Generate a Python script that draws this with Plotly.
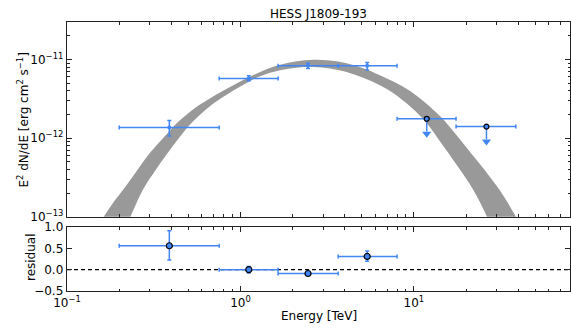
import plotly.graph_objects as go

# ---------------- data ----------------
title = "HESS J1809-193"

# flux points: energy bins (TeV)
e_min = [0.200, 0.754, 1.648, 3.66, 8.0, 17.5]
e_max = [0.754, 1.648, 3.66, 8.0, 17.5, 38.7]
e_ref = [0.389, 1.117, 2.452, 5.38, 11.86, 26.2]
# E^2 dN/dE [erg cm^-2 s^-1]
flux = [1.365e-12, 5.71e-12, 8.30e-12, 8.35e-12, 1.76e-12, 1.40e-12]
flux_errp = [0.31e-12, 0.48e-12, 0.65e-12, 0.79e-12, 0.0, 0.0]
flux_errn = [0.305e-12, 0.36e-12, 0.64e-12, 1.00e-12, 0.0, 0.0]
is_ul = [False, False, False, False, True, True]

# residuals of the first four points
res = [0.56, 0.0, -0.09, 0.31]
res_errp = [0.35, 0.075, 0.02, 0.13]
res_errn = [0.335, 0.08, 0.02, 0.115]

# model butterfly band: upper and lower boundary (TeV, erg cm^-2 s^-1)
band_upper_e = [0.1498, 0.1628, 0.1876, 0.2170, 0.2534, 0.2956, 0.3606, 0.4397,
                0.5487, 0.6693, 0.9322, 1.3279, 1.6923, 2.111, 2.630, 3.282,
                4.095, 5.103, 6.366, 7.765, 9.471, 11.554, 14.415, 20.42,
                31.20, 38.58, 41.77]
band_upper_f = [7.84e-14, 1.0e-13, 1.583e-13, 2.405e-13, 3.864e-13, 6.17e-13,
                1.015e-12, 1.621e-12, 2.441e-12, 3.224e-12, 4.855e-12, 7.101e-12,
                8.590e-12, 9.515e-12, 9.94e-12, 9.71e-12, 8.974e-12, 7.755e-12,
                6.318e-12, 5.148e-12, 4.015e-12, 2.867e-12, 1.822e-12, 7.25e-13,
                2.184e-13, 1.021e-13, 7.62e-14]
band_lower_e = [0.2199, 0.2319, 0.2755, 0.3230, 0.3771, 0.4397, 0.5252, 0.6347,
                0.7816, 1.0406, 1.2983, 1.6923, 2.111, 2.630, 3.282, 4.095,
                5.103, 6.366, 7.765, 11.21, 15.06, 21.83, 26.27, 27.70]
band_lower_f = [7.84e-14, 1.0e-13, 2.249e-13, 3.864e-13, 6.26e-13, 9.85e-13,
                1.574e-12, 2.336e-12, 3.27e-12, 4.785e-12, 6.136e-12, 7.31e-12,
                7.867e-12, 8.054e-12, 7.685e-12, 6.957e-12, 5.871e-12, 4.715e-12,
                3.624e-12, 1.795e-12, 7.46e-13, 2.249e-13, 1.021e-13, 7.62e-14]

# axes ticks
x_major = [0.1, 1, 10]
x_major_text = ["10<sup>−1</sup>", "10<sup>0</sup>", "10<sup>1</sup>"]
y_major = [1e-13, 1e-12, 1e-11]
y_major_text = ["10<sup>−13</sup>", "10<sup>−12</sup>", "10<sup>−11</sup>"]
res_ticks = [-0.5, 0.0, 0.5, 1.0]
res_ticks_text = ["−0.5", "0.0", "0.5", "1.0"]

# ---------------- style ----------------
BLUE = "#4286f4"
BAND = "#999999"
AXC = "#222222"
FONT = "DejaVu Sans"
ul_line_frac = 0.69
ul_head_frac = 0.645

x_minor = [m * d for d in (0.1, 1, 10) for m in range(2, 10)]
y_minor = [m * d for d in (1e-13, 1e-12, 1e-11) for m in range(2, 10)]

fig = go.Figure()

# band
fig.add_trace(go.Scatter(
    x=band_upper_e + band_lower_e[::-1],
    y=band_upper_f + band_lower_f[::-1],
    mode="lines", fill="toself", fillcolor=BAND,
    line=dict(width=0, color=BAND, shape="spline"),
    hoverinfo="skip", showlegend=False, xaxis="x", yaxis="y"))

det = [i for i, u in enumerate(is_ul) if not u]
uls = [i for i, u in enumerate(is_ul) if u]

# detected flux points
fig.add_trace(go.Scatter(
    x=[e_ref[i] for i in det], y=[flux[i] for i in det], mode="markers",
    marker=dict(color=BLUE, size=4, symbol="circle"),
    error_x=dict(type="data", symmetric=False,
                 array=[e_max[i] - e_ref[i] for i in det],
                 arrayminus=[e_ref[i] - e_min[i] for i in det],
                 color=BLUE, thickness=1.5, width=2),
    error_y=dict(type="data", symmetric=False,
                 array=[flux_errp[i] for i in det],
                 arrayminus=[flux_errn[i] for i in det],
                 color=BLUE, thickness=1.5, width=2),
    showlegend=False, xaxis="x", yaxis="y"))

# upper limits
fig.add_trace(go.Scatter(
    x=[e_ref[i] for i in uls], y=[flux[i] for i in uls], mode="markers",
    marker=dict(color=BLUE, size=5, symbol="circle",
                line=dict(color="black", width=1.2)),
    error_x=dict(type="data", symmetric=False,
                 array=[e_max[i] - e_ref[i] for i in uls],
                 arrayminus=[e_ref[i] - e_min[i] for i in uls],
                 color=BLUE, thickness=1.5, width=2),
    error_y=dict(type="data", symmetric=False,
                 array=[0 for i in uls],
                 arrayminus=[flux[i] * (1 - ul_line_frac) for i in uls],
                 color=BLUE, thickness=1.5, width=0),
    showlegend=False, xaxis="x", yaxis="y"))
fig.add_trace(go.Scatter(
    x=[e_ref[i] for i in uls], y=[flux[i] * ul_head_frac for i in uls],
    mode="markers", marker=dict(color=BLUE, size=8, symbol="triangle-down"),
    showlegend=False, xaxis="x", yaxis="y"))

# residuals
fig.add_trace(go.Scatter(
    x=[e_ref[i] for i in det], y=res, mode="markers",
    marker=dict(color=BLUE, size=6, symbol="circle",
                line=dict(color="black", width=1.2)),
    error_x=dict(type="data", symmetric=False,
                 array=[e_max[i] - e_ref[i] for i in det],
                 arrayminus=[e_ref[i] - e_min[i] for i in det],
                 color=BLUE, thickness=1.5, width=2),
    error_y=dict(type="data", symmetric=False, array=res_errp,
                 arrayminus=res_errn, color=BLUE, thickness=1.5, width=2),
    showlegend=False, xaxis="x2", yaxis="y2"))

fig.add_shape(type="line", xref="x2 domain", yref="y2", x0=0, x1=1, y0=0, y1=0,
              line=dict(color="black", width=1.3, dash="4px,3px"), layer="below")

axis_common = dict(showline=True, linecolor=AXC, linewidth=1.3, mirror="allticks",
                   ticks="inside", ticklen=5, tickwidth=1, tickcolor=AXC,
                   showgrid=False, zeroline=False, automargin=False,
                   tickfont=dict(family=FONT, size=12, color="black"))
log_x = dict(type="log", range=[-1, 1.9], tickmode="array", tickvals=x_major,
             minor=dict(tickmode="array", tickvals=x_minor, ticks="inside",
                        ticklen=2.5, tickcolor=AXC, tickwidth=1, showgrid=False))

fig.update_layout(
    width=571, height=329,
    margin=dict(l=66.5, r=1, t=22, b=38, autoexpand=False),
    paper_bgcolor="white", plot_bgcolor="white",
    font=dict(family=FONT, size=12, color="black"),
    hovermode=False,
    xaxis=dict(**axis_common, **log_x, anchor="y", domain=[0, 1],
               showticklabels=False),
    yaxis=dict(**axis_common, type="log", range=[-13, -10.523], domain=[0.2762, 1],
               anchor="x", tickmode="array", tickvals=y_major, ticktext=y_major_text,
               minor=dict(tickmode="array", tickvals=y_minor, ticks="inside",
                          ticklen=2.5, tickcolor=AXC, tickwidth=1, showgrid=False)),
    xaxis2=dict(**axis_common, **log_x, anchor="y2", domain=[0, 1],
                ticktext=x_major_text),
    yaxis2=dict(**axis_common, range=[-0.5, 1.0], domain=[0, 0.2379], anchor="x2",
                tickmode="array", tickvals=res_ticks, ticktext=res_ticks_text),
    annotations=[
        dict(text=title, xref="paper", yref="paper", x=0.5, y=1.0305,
             xanchor="center", yanchor="middle", showarrow=False,
             font=dict(family=FONT, size=12)),
        dict(text="E<sup>2</sup> dN/dE [erg cm<sup>2</sup> s<sup>−1</sup>]",
             xref="paper", yref="paper", x=-0.0884, y=0.6357, textangle=-90,
             xanchor="center", yanchor="middle", showarrow=False,
             font=dict(family=FONT, size=12)),
        dict(text="residual", xref="paper", yref="paper", x=-0.0725, y=0.1245,
             textangle=-90, xanchor="center", yanchor="middle", showarrow=False,
             font=dict(family=FONT, size=12)),
        dict(text="Energy [TeV]", xref="paper", yref="paper", x=0.5, y=-0.0929,
             xanchor="center", yanchor="middle", showarrow=False,
             font=dict(family=FONT, size=12)),
    ],
)

fig.write_html("out.html",
               config={"displayModeBar": False, "staticPlot": True},
               post_script="document.body.style.margin='0';"
                           "document.body.style.overflow='hidden';")
